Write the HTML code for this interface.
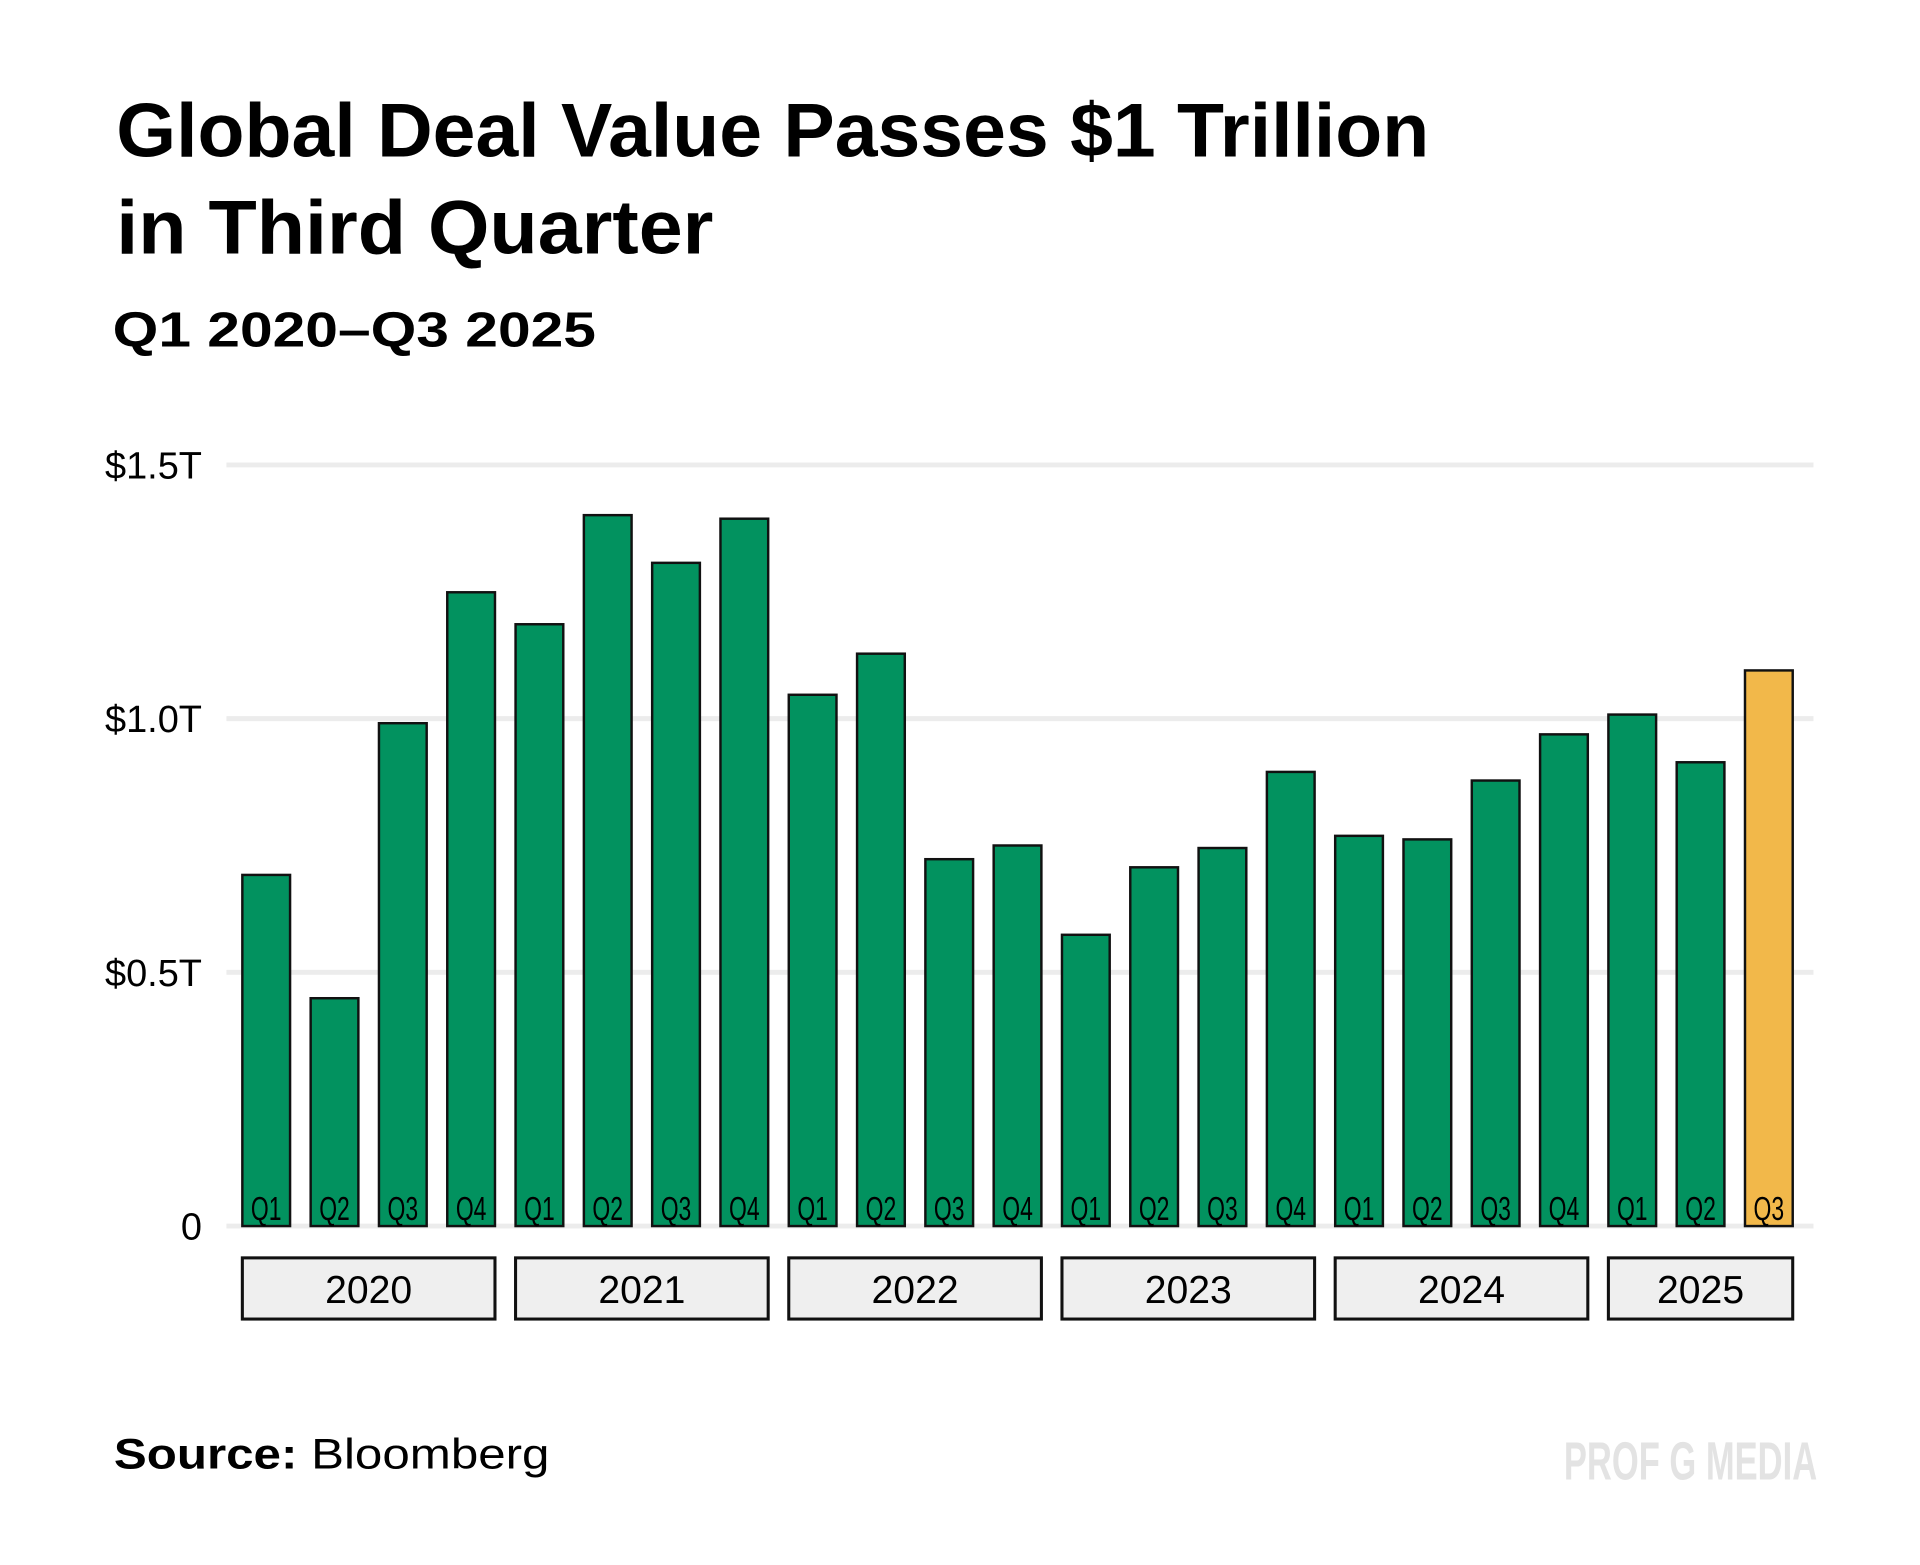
<!DOCTYPE html>
<html><head><meta charset="utf-8"><style>
html,body{margin:0;padding:0;background:#fff}
svg{display:block}
text{font-family:"Liberation Sans",sans-serif}
</style></head><body>
<svg id="chart" width="1920" height="1565" viewBox="0 0 1569 1279">
<text x="95" y="128" font-size="62" font-weight="bold" textLength="1073" lengthAdjust="spacingAndGlyphs">Global Deal Value Passes $1 Trillion</text>
<text x="95" y="207" font-size="62" font-weight="bold" textLength="488" lengthAdjust="spacingAndGlyphs">in Third Quarter</text>
<text x="92" y="283" font-size="40" font-weight="bold" textLength="395" lengthAdjust="spacingAndGlyphs">Q1 2020–Q3 2025</text>
<g id="grid"></g>
<g id="bars"></g>
<g id="years"></g>
<text x="93" y="1200" font-size="35" textLength="356" lengthAdjust="spacingAndGlyphs"><tspan font-weight="bold">Source:</tspan> Bloomberg</text>
<text x="1278" y="1209" font-size="44" font-weight="bold" fill="#e3e3e3" textLength="207" lengthAdjust="spacingAndGlyphs">PROF G MEDIA</text>
</svg>
<script>
const quarters = ["Q1","Q2","Q3","Q4","Q1","Q2","Q3","Q4","Q1","Q2","Q3","Q4","Q1","Q2","Q3","Q4","Q1","Q2","Q3","Q4","Q1","Q2","Q3"];
const values = [0.692,0.449,0.991,1.249,1.186,1.401,1.307,1.394,1.047,1.128,0.723,0.750,0.574,0.707,0.745,0.895,0.769,0.762,0.878,0.969,1.008,0.914,1.095];
const years = ["2020","2021","2022","2023","2024","2025"];
const yearCounts = [4,4,4,4,4,3];
const yTicks = [0,0.5,1.0,1.5];
const yTickLabels = ["0","$0.5T","$1.0T","$1.5T"];

const NS="http://www.w3.org/2000/svg";
const y0=1002, pxPerUnit=414.7;
const yScale=v=>y0-v*pxPerUnit;
const x0=198, pitch=55.82, bw=39;
const xScale=i=>x0+i*pitch;
function mk(tag,attrs,parent){const e=document.createElementNS(NS,tag);for(const k in attrs)e.setAttribute(k,attrs[k]);parent.appendChild(e);return e;}
const grid=document.getElementById('grid'),bars=document.getElementById('bars'),yrs=document.getElementById('years');
yTicks.forEach((t,i)=>{
  const l=mk('line',{x1:185,x2:1482,y1:yScale(t),y2:yScale(t),stroke:'#ececec','stroke-width':4},grid);
  
  
  const tx=mk('text',{x:165,y:yScale(t)+11,'font-size':31,'text-anchor':'end'},grid);
  tx.textContent=yTickLabels[i];
  
  
});
values.forEach((v,i)=>{
  const last=i===values.length-1;
  const r=mk('rect',{x:xScale(i),y:yScale(v),width:bw,height:v*pxPerUnit,fill:last?'#f2b84a':'#02925f',stroke:'#111','stroke-width':2},bars);
  
  
  const t=mk('text',{x:xScale(i)+bw/2,y:y0-5,'font-size':27,'text-anchor':'middle',textLength:25,lengthAdjust:'spacingAndGlyphs'},bars);
  t.textContent=quarters[i];
  
  
});
let idx=0;
years.forEach((y,j)=>{
  const n=yearCounts[j];
  const xa=xScale(idx), xb=xScale(idx+n-1)+bw;
  const r=mk('rect',{x:xa,y:1028,width:xb-xa,height:50,fill:'#efefef',stroke:'#111','stroke-width':2.5},yrs);
  
  
  const t=mk('text',{x:(xa+xb)/2,y:1065,'font-size':32,'text-anchor':'middle'},yrs);
  t.textContent=y;
  
  
  idx+=n;
});
</script>
</body></html>
